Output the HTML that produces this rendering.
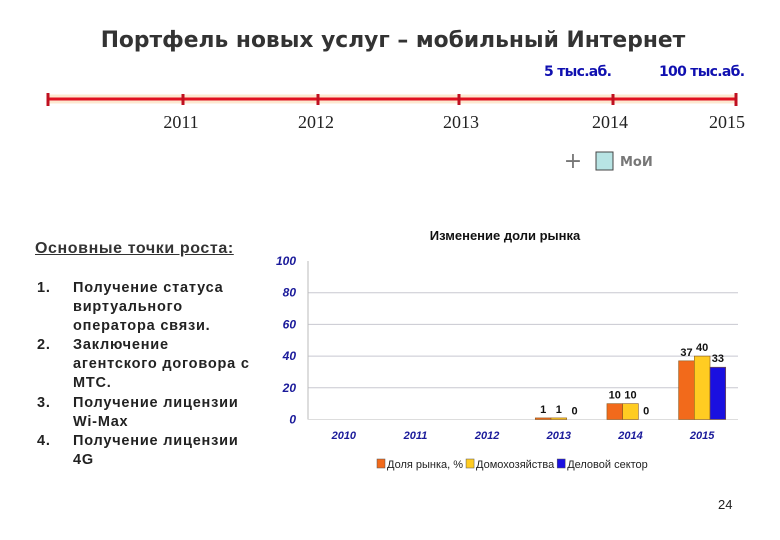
<!DOCTYPE html>
<html><head><meta charset="utf-8"><style>
body{margin:0;width:780px;height:540px;background:#fff;position:relative;overflow:hidden;font-family:"Liberation Sans","DejaVu Sans",sans-serif}
.a{position:absolute;white-space:nowrap}
</style></head><body>
<div class="a" style="left:0;width:786px;text-align:center;top:28px;font-family:'DejaVu Sans',sans-serif;font-weight:bold;font-size:21.8px;color:#333">Портфель новых услуг – мобильный Интернет</div>
<div class="a" style="left:544px;top:64px;font-family:'DejaVu Sans',sans-serif;font-weight:bold;font-size:14px;color:#1010b0;letter-spacing:-0.7px">5 тыс.аб.</div>
<div class="a" style="left:659px;top:64px;font-family:'DejaVu Sans',sans-serif;font-weight:bold;font-size:14px;color:#1010b0;letter-spacing:-0.7px">100 тыс.аб.</div>
<svg class="a" style="left:0;top:0" width="780" height="200">
<line x1="48" y1="99" x2="736" y2="99" stroke="#fde8d0" stroke-width="9"/>
<line x1="48" y1="99" x2="736" y2="99" stroke="#e01020" stroke-width="3"/>
<g stroke="#c01020" stroke-width="3">
<line x1="48" y1="93" x2="48" y2="106"/><line x1="183" y1="94" x2="183" y2="105"/><line x1="318" y1="94" x2="318" y2="105"/><line x1="459" y1="94" x2="459" y2="105"/><line x1="613" y1="94" x2="613" y2="105"/><line x1="736" y1="93" x2="736" y2="106"/></g>
<g font-family="Liberation Serif,serif" font-size="18" fill="#222" text-anchor="middle">
<text x="181" y="128">2011</text><text x="316" y="128">2012</text><text x="461" y="128">2013</text><text x="610" y="128">2014</text><text x="727" y="128">2015</text></g>
<text x="573" y="168" font-size="22" fill="#777" text-anchor="middle" font-family="DejaVu Sans,sans-serif">+</text>
<rect x="596" y="152" width="17" height="18" fill="#b8e4e4" stroke="#444"/>
<text x="620" y="166" font-size="13" fill="#777" font-weight="bold" font-family="DejaVu Sans,sans-serif">МоИ</text>
</svg>
<div class="a" style="left:35px;top:240px;font-size:16px;font-weight:bold;color:#333;text-decoration:underline;letter-spacing:0.6px">Основные точки роста:</div>
<div class="a" style="left:37px;top:279px;font-size:14.5px;font-weight:bold;color:#222;line-height:19.1px;letter-spacing:0.8px">
<div>1.</div><div>&nbsp;</div><div>&nbsp;</div><div>2.</div><div>&nbsp;</div><div>&nbsp;</div><div>3.</div><div>&nbsp;</div><div>4.</div></div>
<div class="a" style="left:73px;top:279px;font-size:14.5px;font-weight:bold;color:#222;line-height:19.1px;letter-spacing:0.8px">
<div>Получение статуса</div><div>виртуального</div><div>оператора связи.</div><div>Заключение</div><div>агентского договора с</div><div>МТС.</div><div>Получение лицензии</div><div>Wi-Max</div><div>Получение лицензии</div><div>4G</div></div>
<svg class="a" id="chart" style="left:0;top:0" width="780" height="540"></svg>
<div class="a" style="left:718px;top:497px;font-size:13px;color:#222">24</div>
<script>
const categories=["2010","2011","2012","2013","2014","2015"];
const shareVals=[null,null,null,1,10,37];
const homeVals=[null,null,null,1,10,40];
const bizVals=[null,null,null,0,0,33];
const yTicks=[0,20,40,60,80,100];
const seriesNames=["Доля рынка, %","Домохозяйства","Деловой сектор"];
const seriesColors=["#f26a1b","#ffcc22","#1a10e0"];
const svg=document.getElementById('chart');const NS='http://www.w3.org/2000/svg';
const X0=308,X1=738,Y0=419.5,Y1=261;
const y=v=>Y0-(v/100)*(Y0-Y1);
const cw=(X1-X0)/categories.length;
const cx=i=>X0+cw*(i+0.5);
function mk(t,a,p){const e=document.createElementNS(NS,t);for(const k in a)e.setAttribute(k,a[k]);(p||svg).appendChild(e);return e;}
let t=mk('text',{x:505,y:240,'text-anchor':'middle','font-size':13,'font-weight':'bold',fill:'#111'});t.textContent='Изменение доли рынка';


yTicks.forEach(v=>{
 if(v>0&&v<100){const l=mk('line',{x1:X0,x2:X1,y1:y(v),y2:y(v),stroke:'#c8c8d0','stroke-width':1});
 
 }
 const tx=mk('text',{x:296,y:y(v)+4,'text-anchor':'end','font-size':12,'font-weight':'bold','font-style':'italic',fill:'#1a1a9a'});tx.textContent=v;
 
 
});
mk('line',{x1:X0,x2:X0,y1:Y1,y2:Y0,stroke:'#bbb'});
mk('line',{x1:X0,x2:X1,y1:Y0,y2:Y0,stroke:'#ddd'});
categories.forEach((c,i)=>{const tx=mk('text',{x:cx(i),y:439,'text-anchor':'middle','font-size':11,'font-weight':'bold','font-style':'italic',fill:'#1a1a9a'});tx.textContent=c;
 
 });
const bw=15.7;
[shareVals,homeVals,bizVals].forEach((arr,s)=>{arr.forEach((v,i)=>{if(v===null)return;
 const x=cx(i)-1.5*bw+s*bw;
 if(v>0){const r=mk('rect',{x:x,y:y(v),width:bw,height:Y0-y(v),fill:seriesColors[s],stroke:'#8a5a20','stroke-width':0.6});
 
 }
 const tx=mk('text',{x:x+bw/2,y:y(v)-5,'text-anchor':'middle','font-size':11,'font-weight':'bold',fill:'#111'});tx.textContent=v;
 
 
});});
let lx=377;
seriesNames.forEach((n,s)=>{const r=mk('rect',{x:lx,y:459,width:8,height:9,fill:seriesColors[s],stroke:'#555','stroke-width':0.5});
 
 
 const tx=mk('text',{x:lx+10,y:468,'font-size':11,fill:'#222'});tx.textContent=n;
 
 
 lx+=10+tx.getComputedTextLength()+3;});
</script>
</body></html>
